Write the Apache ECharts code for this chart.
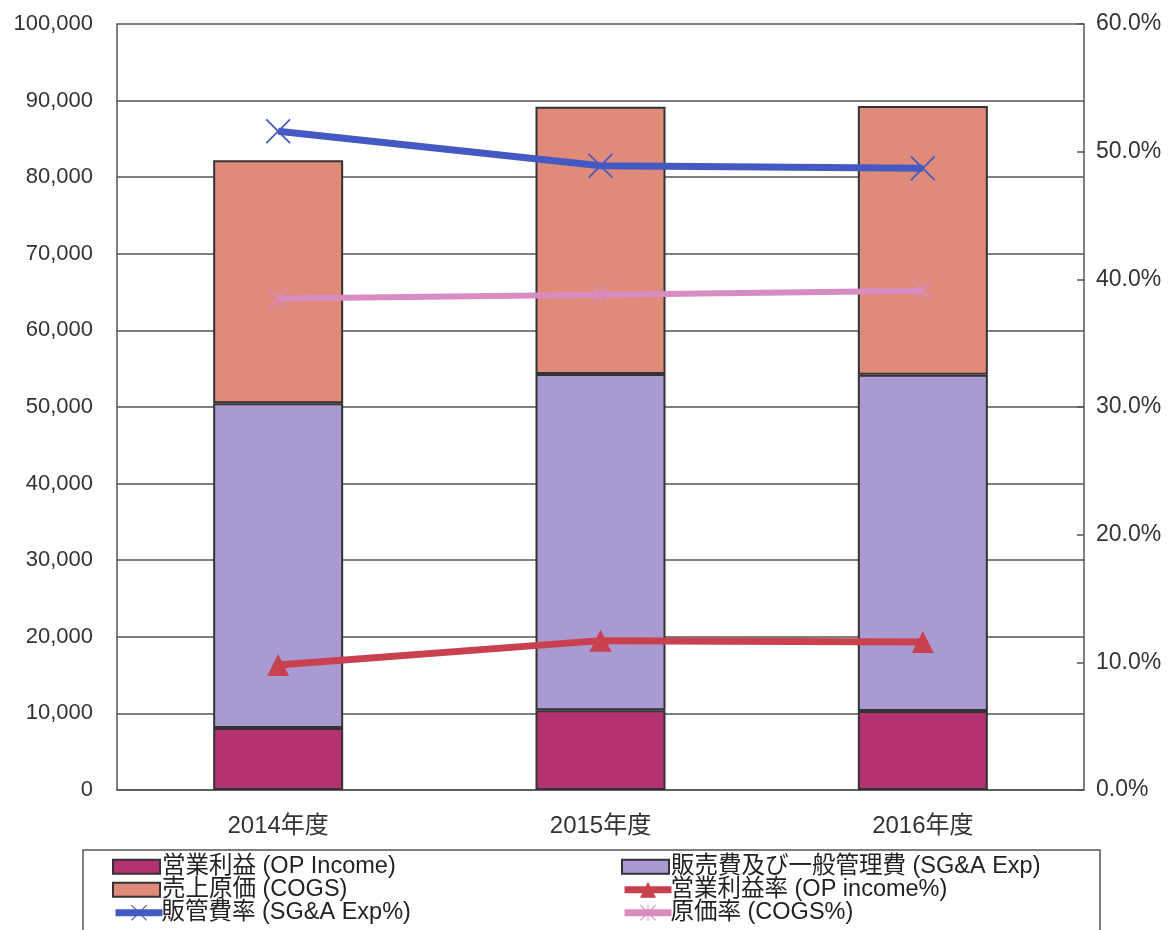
<!DOCTYPE html>
<html><head><meta charset="utf-8">
<script src="https://cdn.jsdelivr.net/npm/echarts@6/dist/echarts.min.js"></script>
<style>html,body{margin:0;padding:0;background:#fff}#c{width:1168px;height:930px}</style>
</head><body><div id="c"></div>
<script>
const categories = ['2014年度', '2015年度', '2016年度'];
const opIncome = [8100, 10400, 10300];
const sgaExp = [42400, 43900, 43900];
const cogs = [31700, 34900, 35100];
const sgaPct = [51.6, 48.9, 48.7];
const cogsPct = [38.5, 38.8, 39.1];
const opPct = [9.8, 11.7, 11.6];
const leftTicks = [0, 100000, 10000];
const rightTicks = [0, 60, 10];

const names = {
  op: '営業利益 (OP Income)',
  sga: '販売費及び一般管理費 (SG&A Exp)',
  cogs: '売上原価 (COGS)',
  opPct: '営業利益率 (OP income%)',
  sgaPct: '販管費率 (SG&A Exp%)',
  cogsPct: '原価率 (COGS%)'
};
const font = '"Liberation Sans", "Noto Sans CJK JP", sans-serif';
const xSym = 'path://M0,1L1,0L10,9L19,0L20,1L11,10L20,19L19,20L10,11L1,20L0,19L9,10Z';
const starSym = 'path://M0,1L1,0L9.4,8.4L9.4,0L10.6,0L10.6,8.4L19,0L20,1L11.6,9.4L11.6,10.6L20,19L19,20L10.6,11.6L10.6,20L9.4,20L9.4,11.6L1,20L0,19L8.4,10.6L8.4,9.4Z';

const legendItems = [
  { name: names.op, icon: 'rect', left: 112, top: 855 },
  { name: names.cogs, icon: 'rect', left: 112, top: 878 },
  { name: names.sgaPct, left: 112, top: 901 },
  { name: names.sga, icon: 'rect', left: 621, top: 855 },
  { name: names.opPct, left: 621, top: 878 },
  { name: names.cogsPct, left: 621, top: 901 }
];
const legends = legendItems.map(it => ({
  left: it.left, top: it.top, padding: 0, itemWidth: 47,
  itemHeight: it.icon ? 14 : 20, itemGap: 0,
  lineStyle: it.icon ? undefined : { width: 7 },
  textStyle: { fontSize: 23.5, lineHeight: 23, color: '#222', fontFamily: font, padding: [0, 0, 0, it.icon ? -3 : -6] },
  data: [it.icon ? { name: it.name, icon: it.icon } : { name: it.name }]
}));

const chart = echarts.init(document.getElementById('c'));
const barStyle = (c) => ({ color: c, borderColor: '#333', borderWidth: 2 });
chart.setOption({
  animation: false,
  textStyle: { fontFamily: font },
  grid: { left: 117, right: 84, top: 24, bottom: 140 },
  legend: legends,
  graphic: [{
    type: 'rect', shape: { x: 83, y: 850, width: 1017, height: 100 },
    style: { fill: 'none', stroke: '#555', lineWidth: 1.5 }, z: -1
  }],
  xAxis: {
    type: 'category', data: categories,
    axisLine: { lineStyle: { color: '#555', width: 1.5 } },
    axisTick: { show: false },
    axisLabel: { fontSize: 24, color: '#333', margin: 24, fontFamily: font }
  },
  yAxis: [
    {
      type: 'value', min: leftTicks[0], max: leftTicks[1], interval: leftTicks[2],
      axisLine: { show: true, lineStyle: { color: '#555', width: 1.5 } },
      axisTick: { show: false },
      splitLine: { lineStyle: { color: '#555', width: 1.5 } },
      axisLabel: {
        fontSize: 22, color: '#333', margin: 24, fontFamily: font,
        formatter: v => v.toLocaleString('en-US')
      }
    },
    {
      type: 'value', min: rightTicks[0], max: rightTicks[1], interval: rightTicks[2],
      position: 'right',
      axisLine: { show: true, lineStyle: { color: '#555', width: 1.5 } },
      axisTick: { show: true, inside: true, length: 7, lineStyle: { color: '#555', width: 1.5 } },
      splitLine: { show: false },
      axisLabel: {
        fontSize: 23, color: '#333', margin: 12, fontFamily: font,
        formatter: v => v.toFixed(1) + '%'
      }
    }
  ],
  series: [
    { name: names.op, type: 'bar', stack: 's', barWidth: 130, data: opIncome, itemStyle: barStyle('#b3326f') },
    { name: names.sga, type: 'bar', stack: 's', data: sgaExp, itemStyle: barStyle('#a99bd2') },
    { name: names.cogs, type: 'bar', stack: 's', data: cogs, itemStyle: barStyle('#e08a7a') },
    {
      name: names.sgaPct, type: 'line', yAxisIndex: 1, data: sgaPct,
      symbol: xSym, symbolSize: 25, z: 5,
      lineStyle: { color: '#4559c2', width: 7 }, itemStyle: { color: '#4559c2' }
    },
    {
      name: names.cogsPct, type: 'line', yAxisIndex: 1, data: cogsPct,
      symbol: starSym, symbolSize: 20, z: 5,
      lineStyle: { color: '#d98cc2', width: 6 }, itemStyle: { color: '#d98cc2' }
    },
    {
      name: names.opPct, type: 'line', yAxisIndex: 1, data: opPct,
      symbol: 'triangle', symbolSize: 22, z: 5,
      lineStyle: { color: '#c9404e', width: 7 }, itemStyle: { color: '#c9404e' }
    }
  ]
});
</script></body></html>
